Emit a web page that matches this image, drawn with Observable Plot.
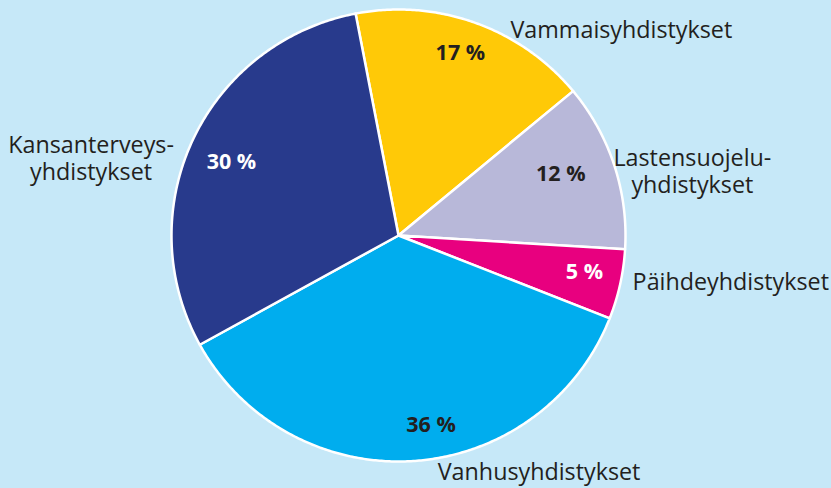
<!DOCTYPE html>
<html>
<head>
<meta charset="utf-8">
<script src="https://cdn.jsdelivr.net/npm/d3@7"></script>
<script src="https://cdn.jsdelivr.net/npm/@observablehq/plot@0.6"></script>
<style>
  html, body { margin: 0; padding: 0; background: #c6e8f8; }
  #chart { width: 831px; height: 488px; overflow: hidden; }
</style>
</head>
<body>
<div id="chart"></div>
<script>
// ---- data ----
const categories = ["Vammaisyhdistykset", "Lastensuojeluyhdistykset", "Päihdeyhdistykset", "Vanhusyhdistykset", "Kansanterveysyhdistykset"];
const labels = ["Vammaisyhdistykset", "Lastensuojelu-\nyhdistykset", "Päihdeyhdistykset", "Vanhusyhdistykset", "Kansanterveys-\nyhdistykset"];
const values = [17, 12, 5, 36, 30];
const pctLabels = ["17 %", "12 %", "5 %", "36 %", "30 %"];

// ---- styling / layout (not data) ----
const colors = ["#ffc907", "#b8b8d9", "#e8007f", "#00adee", "#283a8c"];
const pctColors = ["#231f20", "#231f20", "#ffffff", "#231f20", "#ffffff"];
const startDeg = -10.9;            // first slice boundary, clockwise from 12 o'clock
const pctLayout = [               // [angle shift deg, radius factor]
  [-1, 0.85], [-2.8, 0.765], [-1.3, 0.835], [-6, 0.85], [-1.2, 0.805]
];
const outerLayout = [             // [angle deg, radius factor, anchor]
  [28.4, 1.037, "start"], [77.5, 1.326, "middle"], [101.1, 1.051, "start"],
  [170.6, 1.058, "start"], [284.2, 1.397, "middle"]
];

const total = d3.sum(values);
const rad = d => d * Math.PI / 180;
let acc = startDeg;
const slices = categories.map((c, i) => {
  const a0 = acc;
  const a1 = acc + values[i] / total * 360;
  acc = a1;
  return {name: c, a0, a1, mid: (a0 + a1) / 2, i};
});

// polygon vertices for each slice (unit circle, y up)
const poly = [];
for (const s of slices) {
  poly.push({name: s.name, x: 0, y: 0});
  const n = Math.max(2, Math.ceil((s.a1 - s.a0) / 0.5));
  for (let k = 0; k <= n; k++) {
    const a = rad(s.a0 + (s.a1 - s.a0) * k / n);
    poly.push({name: s.name, x: Math.sin(a), y: Math.cos(a)});
  }
  poly.push({name: s.name, x: 0, y: 0});
}

const pctData = slices.map(s => {
  const [da, r] = pctLayout[s.i];
  const a = rad(s.mid + da);
  return {x: r * Math.sin(a), y: r * Math.cos(a), text: pctLabels[s.i], color: pctColors[s.i]};
});
const outerData = slices.map(s => {
  const [ang, r, anchor] = outerLayout[s.i];
  const a = rad(ang);
  return {x: r * Math.sin(a), y: r * Math.cos(a), text: labels[s.i], anchor};
});

const font = "'Open Sans', 'Noto Sans', sans-serif";

const chart = Plot.plot({
  width: 831,
  height: 488,
  marginLeft: 171,
  marginRight: 206,
  marginTop: 9,
  marginBottom: 27,
  x: {domain: [-1, 1], axis: null},
  y: {domain: [-1, 1], axis: null},
  color: {domain: categories, range: colors},
  style: {background: "#c6e8f8", fontFamily: font, overflow: "visible"},
  marks: [
    Plot.line(poly, {x: "x", y: "y", z: "name", fill: "name", stroke: "white", strokeWidth: 2.5, strokeLinejoin: "round", curve: "linear"}),
    Plot.text(pctData, {x: "x", y: "y", text: "text", fill: d => d.color, fontSize: 21.5, fontWeight: "bold"}),
    ...["start", "middle"].map(anchor =>
      Plot.text(outerData.filter(d => d.anchor === anchor), {x: "x", y: "y", text: "text", fill: "#231f20", fontSize: 23.3, lineHeight: 1.15, textAnchor: anchor})
    )
  ]
});
document.getElementById("chart").appendChild(chart);
</script>
</body>
</html>
